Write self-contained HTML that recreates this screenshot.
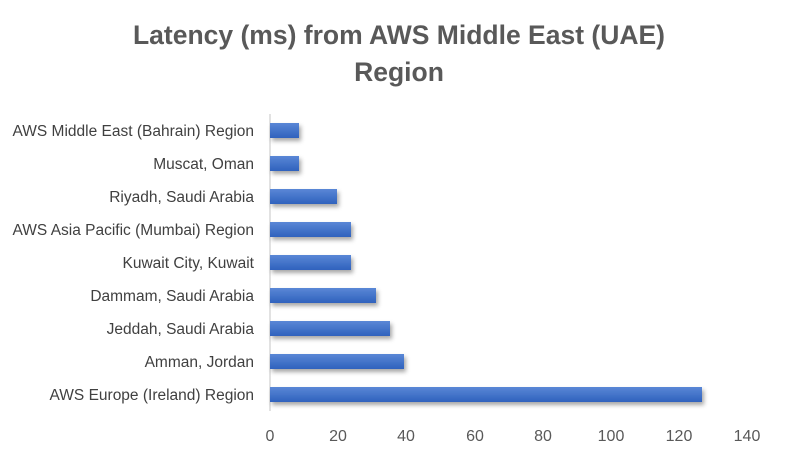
<!DOCTYPE html>
<html><head><style>
body{margin:0;background:#fff;}
svg{display:block;font-family:"Liberation Sans",Calibri,sans-serif;}
</style></head><body>
<svg width="798" height="456" viewBox="0 0 798 456">
<defs>
<linearGradient id="g" x1="0" y1="0" x2="0" y2="1">
<stop offset="0" stop-color="#5a87d6"/><stop offset="1" stop-color="#2f62bd"/>
</linearGradient>
<filter id="s" x="-5%" y="-50%" width="115%" height="250%"><feDropShadow dx="2" dy="3" stdDeviation="2" flood-color="#000" flood-opacity="0.35"/></filter>
</defs>
<text x="399" y="44" text-anchor="middle" font-size="26.5" font-weight="bold" fill="#595959">Latency (ms) from AWS Middle East (UAE)</text>
<text x="399" y="81" text-anchor="middle" font-size="26.5" font-weight="bold" fill="#595959">Region</text>
<line x1="270" y1="114" x2="270" y2="411" stroke="#d9d9d9" stroke-width="1.5"/>
<g fill="url(#g)" filter="url(#s)">
<rect x="270" y="123" width="29" height="15"/>
<rect x="270" y="156" width="29" height="15"/>
<rect x="270" y="189" width="67" height="15"/>
<rect x="270" y="222" width="81" height="15"/>
<rect x="270" y="255" width="81" height="15"/>
<rect x="270" y="288" width="106" height="15"/>
<rect x="270" y="321" width="120" height="15"/>
<rect x="270" y="354" width="134" height="15"/>
<rect x="270" y="387" width="432" height="15"/>
</g>
<g font-size="15.5" fill="#404040" text-anchor="end">
<text x="254" y="136">AWS Middle East (Bahrain) Region</text>
<text x="254" y="169">Muscat, Oman</text>
<text x="254" y="202">Riyadh, Saudi Arabia</text>
<text x="254" y="235">AWS Asia Pacific (Mumbai) Region</text>
<text x="254" y="268">Kuwait City, Kuwait</text>
<text x="254" y="301">Dammam, Saudi Arabia</text>
<text x="254" y="334">Jeddah, Saudi Arabia</text>
<text x="254" y="367">Amman, Jordan</text>
<text x="254" y="400">AWS Europe (Ireland) Region</text>
</g>
<g font-size="16" fill="#595959" text-anchor="middle">
<text x="270" y="441">0</text><text x="338" y="441">20</text><text x="406" y="441">40</text><text x="475" y="441">60</text><text x="543" y="441">80</text><text x="611" y="441">100</text><text x="679" y="441">120</text><text x="747" y="441">140</text>
</g>
</svg>
</body></html>
